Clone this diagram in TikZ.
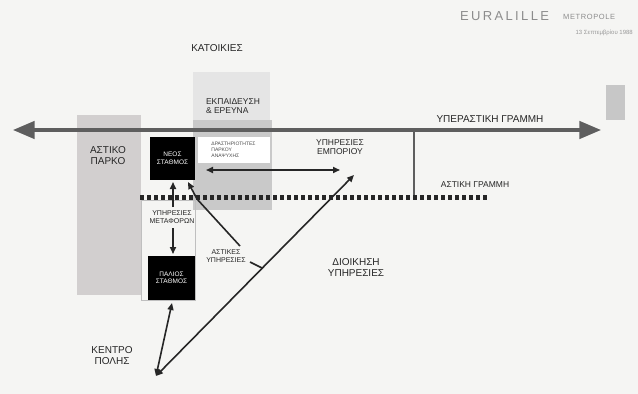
\documentclass[tikz,border=0pt]{standalone}
\usepackage{fontspec}
\setmainfont{Liberation Sans}
\newfontfamily\titlefont[LetterSpace=18]{Liberation Sans}
\newfontfamily\subtitlefont[LetterSpace=8]{Liberation Sans}
\usetikzlibrary{arrows.meta}

\definecolor{paper}{HTML}{F5F5F3}
\definecolor{railgray}{HTML}{5E5E5E}
\definecolor{parkgray}{HTML}{D2CFCF}
\definecolor{zonegray}{HTML}{C9C9C9}

\begin{document}
\begin{tikzpicture}[x=1pt,y=-1pt,>={Triangle[length=7pt,width=6pt]}]
    \tikzstyle{lbl}=[font=\fontsize{8.5}{9}\selectfont,align=center,inner sep=1pt,text=black!85]
    \tikzstyle{biglbl}=[lbl,font=\fontsize{10}{11}\selectfont]
    \tikzstyle{smalllbl}=[lbl,font=\fontsize{7}{8}\selectfont]
    \tikzstyle{station}=[rectangle,fill=black,text=white!85,font=\fontsize{6.5}{7.5}\selectfont,align=center,inner sep=0pt]
    \tikzstyle{arr}=[line width=1.6pt,black!85]

    % Paper and frame of the picture
    \fill[paper] (0,0) rectangle (638,394);
    \useasboundingbox (0,0) rectangle (638,394);

    % Draw the background zones
    \fill[parkgray] (77,115) rectangle (141,295);
    \fill[black!10] (193,72) rectangle (270,125);
    \fill[zonegray] (193,120) rectangle (272,210);
    \fill[black!22] (606,85) rectangle (625,120);
    \draw[black!25,line width=0.6pt] (141,200) rectangle (195,300);

    % Title
    \node[lbl,anchor=west,text=black!45,font=\titlefont\fontsize{13}{13}\selectfont] (title) at (459,16) {EURALILLE};
    \node[lbl,anchor=west,text=black!45,font=\subtitlefont\fontsize{7.5}{8}\selectfont] (metro) at (562,17) {METROPOLE};
    \node[lbl,anchor=east,text=black!40,font=\fontsize{6}{7}\selectfont] (date) at (634,33) {13 Σεπτεμβρίου 1988};

    % Draw the railway lines
    \node[inner sep=0pt] (west) at (12,130) {};
    \node[inner sep=0pt] (east) at (602,130) {};
    \draw[railgray,line width=4.5pt,{Triangle[length=22pt,width=17pt]}-{Triangle[length=22pt,width=17pt]}] (west) -- (east);
    \coordinate (junction) at (414,130);
    \coordinate (metroend) at (414,197);
    \draw[railgray,line width=2.5pt] (junction) -- (metroend);
    \coordinate (dotwest) at (140,197);
    \coordinate (doteast) at (487,197);
    \draw[black!85,line width=5pt,dash pattern=on 4pt off 3pt] (dotwest) -- (doteast);

    % Draw the stations
    \node[station,minimum width=45pt,minimum height=43pt] (newst) at (172.5,158.5) {ΝΕΟΣ\\ΣΤΑΘΜΟΣ};
    \node[station,minimum width=47pt,minimum height=44pt] (oldst) at (171.5,278) {ΠΑΛΙΟΣ\\ΣΤΑΘΜΟΣ};
    \node[rectangle,fill=white,text=black!70,font=\fontsize{5}{6}\selectfont,align=left,minimum width=72pt,minimum height=26pt,inner sep=1pt] (parkact) at (233.5,150) {ΔΡΑΣΤΗΡΙΟΤΗΤΕΣ\\ΠΑΡΚΟΥ\\ΑΝΑΨΥΧΗΣ};

    % Labels
    \node[biglbl] (housing) at (217,48) {ΚΑΤΟΙΚΙΕΣ};
    \node[lbl,align=left] (research) at (233,106) {ΕΚΠΑΙΔΕΥΣΗ\\\& ΕΡΕΥΝΑ};
    \node[biglbl] (park) at (108,156) {ΑΣΤΙΚΟ\\ΠΑΡΚΟ};
    \node[biglbl] (intercity) at (490,119) {ΥΠΕΡΑΣΤΙΚΗ ΓΡΑΜΜΗ};
    \node[lbl] (metroline) at (475,185) {ΑΣΤΙΚΗ ΓΡΑΜΜΗ};
    \node[lbl] (commerce) at (340,147) {ΥΠΗΡΕΣΙΕΣ\\ΕΜΠΟΡΙΟΥ};
    \node[smalllbl] (transport) at (172,217) {ΥΠΗΡΕΣΙΕΣ\\ΜΕΤΑΦΟΡΩΝ};
    \node[smalllbl] (urban) at (226,256) {ΑΣΤΙΚΕΣ\\ΥΠΗΡΕΣΙΕΣ};
    \node[biglbl] (admin) at (356,268) {ΔΙΟΙΚΗΣΗ\\ΥΠΗΡΕΣΙΕΣ};
    \node[biglbl] (centre) at (112,356) {ΚΕΝΤΡΟ\\ΠΟΛΗΣ};

    % Connect the stations
    \coordinate (citypt) at (156,376);
    \coordinate (shoppt) at (354,175);
    \coordinate (parkpt) at (206,170);
    \coordinate (commpt) at (340,170);
    \coordinate (transtop) at (173,207);
    \coordinate (newin) at (173,182);
    \coordinate (transbot) at (173,228);
    \coordinate (oldin) at (173,254);
    \coordinate (oldout) at (172,303);
    \coordinate (bend) at (197,199);
    \coordinate (urbin) at (188,182);
    \coordinate (urbstart) at (240,246);
    \coordinate (urbend) at (250,262);
    \coordinate (diagpt) at (262,268);
    \draw[arr,<->] (parkpt) -- (commpt);
    \draw[arr,<->] (citypt) -- (shoppt);
    \draw[arr,<->] (oldout) -- (citypt);
    \draw[arr,->] (transtop) -- (newin);
    \draw[arr,->] (transbot) -- (oldin);
    \draw[arr,->] (urbstart) -- (bend) -- (urbin);
    \draw[arr] (urbend) -- (diagpt);
\end{tikzpicture}
\end{document}
